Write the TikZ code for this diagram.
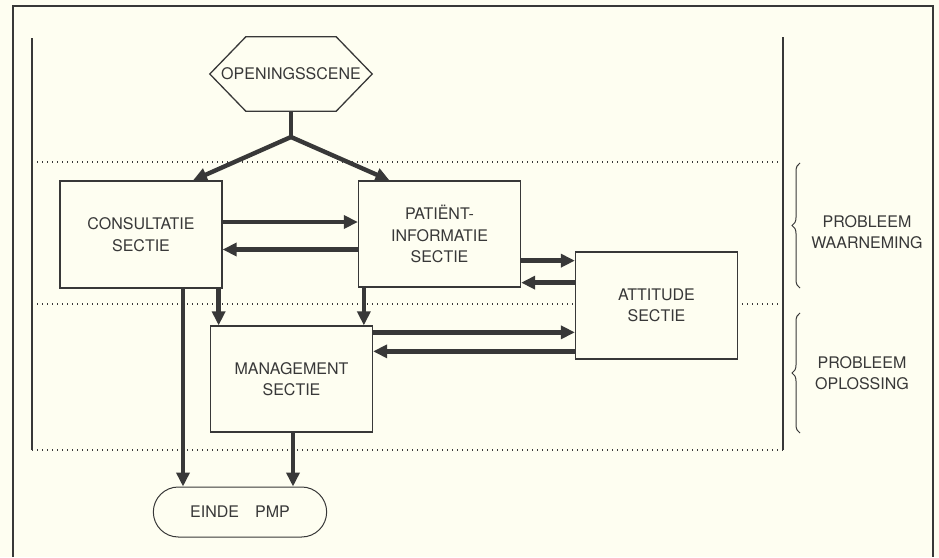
\documentclass[tikz,border=0pt]{standalone}
\usepackage{fontspec}
\setmainfont{TeX Gyre Heros}
\usetikzlibrary{arrows.meta}
\usetikzlibrary{shapes.misc}
\usetikzlibrary{decorations.pathreplacing}
\colorlet{penColor}{black!78}
\definecolor{paper}{RGB}{254,254,241}
\tikzset{>={Triangle[length=14pt,width=13pt]}}
\tikzset{
  sectie/.style={draw=penColor,line width=1.3pt,fill=paper,text=penColor,
    minimum width=162pt,minimum height=107pt,align=center},
  flow/.style={->,penColor,line width=4.4pt},
  kader/.style={penColor,line width=1.3pt},
  scheiding/.style={penColor,line width=1.4pt,dash pattern=on 1.4pt off 3.6pt},
  accolade/.style={penColor,line width=1pt,decorate,decoration={brace,amplitude=8pt}},
}

\begin{document}
\begin{tikzpicture}[x=1pt,y=-1pt,font=\fontsize{16}{21.5}\selectfont]
				\fill[paper] (0,0) rectangle (939,557);
				\useasboundingbox (0,0) rectangle (939,557);
				% kader
				\draw[kader] (13,557) -- (13,6) -- (933,6) -- (933,557);
				\draw[kader] (32,38) -- (32,450);
				\draw[kader] (783,37) -- (783,450);
				\draw[scheiding] (32,162) -- (783,162);
				\draw[scheiding] (32,304) -- (783,304);
				\draw[scheiding] (32,450) -- (783,450);
				% blokken
				\node[text=penColor,minimum width=162pt,minimum height=74pt,inner sep=0pt] (open) at (291,74) {OPENINGSSCENE};
				\draw[penColor,line width=1.3pt] (open.west) -- ([xshift=36pt]open.north west) -- ([xshift=-36pt]open.north east)
				  -- (open.east) -- ([xshift=-36pt]open.south east) -- ([xshift=36pt]open.south west) -- cycle;
				\node[sectie] (cons) at (141,234.5) {CONSULTATIE\\SECTIE};
				\node[sectie,minimum height=106pt] (pat) at (439.5,234) {PATIËNT-\\INFORMATIE\\SECTIE};
				\node[sectie] (att) at (656.5,305.5) {ATTITUDE\\SECTIE};
				\node[sectie,minimum height=106pt] (man) at (291.5,379) {MANAGEMENT\\SECTIE};
				\node[sectie,shape=rounded rectangle,line width=1pt,minimum width=180pt,
				  minimum height=50pt] (einde) at (240,512) {EINDE\quad PMP};
				\coordinate (vork) at (291,137);
				% pijlen
				\draw[flow,-] (open.south) -- (vork);
				\draw[flow] (vork) -- ([xshift=52pt]cons.north);
				\draw[flow] (vork) -- ([xshift=-50pt]pat.north);
				\draw[flow] ([yshift=12.5pt]cons.east) -- ([yshift=12.5pt]cons.east -| pat.west);
				\draw[flow] ([yshift=-15.5pt]pat.west) -- ([yshift=-15.5pt]pat.west -| cons.east);
				\draw[flow] ([yshift=27pt]pat.south east) -- ([yshift=27pt]pat.south east -| att.west);
				\draw[flow] ([yshift=5pt]pat.south east -| att.west) -- ([yshift=5pt]pat.south east);
				\draw[flow] ([yshift=-7pt]man.north east) -- ([yshift=-7pt]man.north east -| att.west);
				\draw[flow] ([yshift=-26pt]man.north east -| att.west) -- ([yshift=-26pt]man.north east);
				\draw[flow] ([xshift=-4pt]cons.south east) -- ([xshift=-4pt]cons.south east |- man.north);
				\draw[flow] ([xshift=6pt]pat.south west) -- ([xshift=6pt]pat.south west |- man.north);
				\draw[flow] ([xshift=42pt]cons.south) -- ([xshift=42pt]cons.south |- einde.north);
				\draw[flow] ([xshift=1.5pt]man.south) -- ([xshift=1.5pt]man.south |- einde.north);
				% fasen
				\draw[accolade] (800,288) -- (800,163);
				\draw[accolade] (800,433) -- (800,313);
				\node[align=center,text=penColor] (waarneming) at (867,232) {PROBLEEM\\WAARNEMING};
				\node[align=center,text=penColor] (oplossing) at (862,373) {PROBLEEM\\OPLOSSING};
\end{tikzpicture}
\end{document}
